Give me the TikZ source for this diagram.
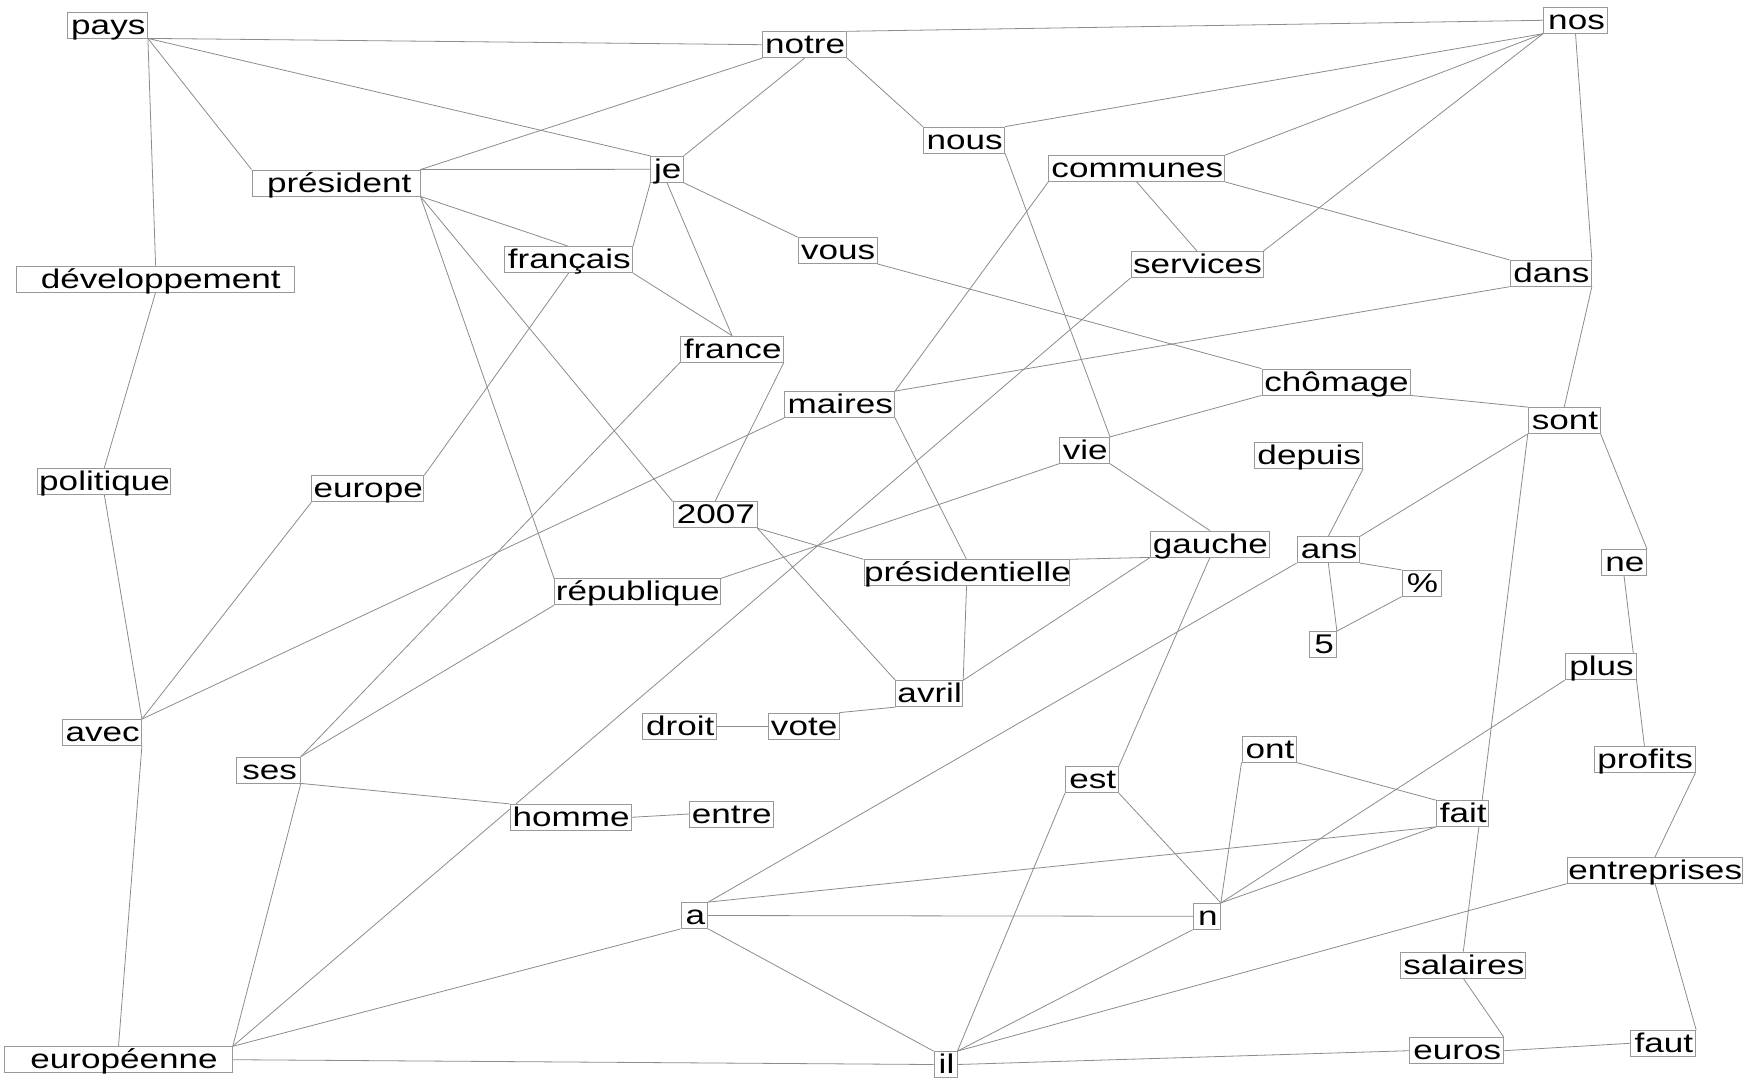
\documentclass[tikz,border=0pt]{standalone}
\usepackage{fontspec}
\newfontfamily\wordfont[FakeStretch=1.3]{Liberation Sans}
\usetikzlibrary{backgrounds}

\begin{document}
\begin{tikzpicture}[x=1pt,y=-1pt,
  wordbox/.style={draw=black!40,fill=white,line width=0.8pt,inner xsep=0pt,inner ysep=0pt,
    text height=22pt,text depth=4pt,font=\wordfont\fontsize{27}{27}\selectfont},
  link/.style={draw=black!45,line width=0.8pt}]
  \useasboundingbox (0,0) rectangle (1763,1079);
  % words
  \foreach \n/\x/\y/\w/\t in {
      pays/107.5/25/80/pays, notre/804.6/44.7/84/notre, nos/1575.5/20.3/64/nos,
      president/336/183/168/président, je/667/169.3/32.5/je, nous/964/140/81.5/nous,
      communes/1136.7/168.5/176/communes, francais/568.6/259.7/128/français,
      vous/837.5/250.5/79/vous, services/1197/264.5/132/services, dans/1550.7/273.3/81.5/dans,
      devel/155.6/279/278/développement, france/732/349/103/france, maires/839.6/404.5/110/maires,
      chomage/1336/382/148/chômage, sont/1564.2/420.5/72/sont, politique/104.3/481.3/133/politique,
      europe/367.8/488.8/112/europe, vie/1084.6/450.3/50/vie, depuis/1308.5/455.3/108.5/depuis,
      y2007/715/514.8/84/2007, gauche/1209.9/544/118.6/gauche, ans/1328.3/549.7/62.7/ans,
      republique/637.5/591.8/166/république, presid/966.5/572.7/205/présidentielle,
      pct/1421.5/583.3/39/\%, ne/1624/562.3/45/ne, five/1323/644.5/27/5, avril/929.3/693.7/67/avril,
      plus/1600.6/666.8/71/plus, droit/679.5/726/74/droit, vote/803.5/726/71/vote,
      avec/102/732.5/79/avec, ont/1269.2/749.2/54.6/ont, ses/268.3/770/64.3/ses,
      est/1091.9/779.7/53/est, profits/1644.4/759.5/101/profits, homme/570.5/817.3/121/homme,
      entre/731.2/814/84/entre, fait/1462.5/813.5/52.7/fait, entreprises/1655/870.3/175.4/entreprises,
      wa/694.4/915.5/26.8/a, wn/1206.8/916.3/27.3/n, salaires/1463.3/965/125/salaires,
      euros/1456.5/1050.7/94/euros, faut/1662.9/1043.3/65.7/faut,
      europeenne/118.5/1059.7/227.7/européenne, il/945.5/1064.5/23/il}{
      \node[wordbox] (\n) at (\x,\y)
        {\makebox[\w pt][l]{\hspace{0pt plus 7fil}\t\hspace{0pt plus 3fil}}};
  }
  % links, corner to corner
  \begin{scope}[on background layer]
  \fill[white] (0,0) rectangle (1763,1079);
  \foreach \a/\b in {
      pays.south east/notre.west, pays.south east/je.north west,
      pays.south east/president.north west, pays.south east/devel.north,
      notre.south west/president.north east, notre.south/je.north east,
      notre.south east/nous.north west, notre.north east/nos.west,
      president.north east/je.west, president.south east/francais.north,
      president.south east/y2007.north west, president.south east/republique.north west,
      je.south west/francais.north east, je.south/france.north, je.south east/vous.north west,
      francais.south east/france.north, francais.south/europe.north east,
      france.south east/y2007.north, france.south west/ses.north east,
      nous.north east/nos.south west, nous.south east/vie.north east,
      communes.north east/nos.south west, communes.south/services.north,
      communes.south east/dans.north west, communes.south west/maires.north east,
      services.north east/nos.south west, services.south west/europeenne.north east,
      vous.south east/chomage.north west,
      nos.south/dans.north east, dans.south east/sont.north, dans.south west/maires.north east,
      maires.south west/avec.north east, maires.south east/presid.north,
      chomage.south west/vie.north east, chomage.south east/sont.north west,
      vie.south west/republique.north east, vie.south east/gauche.north,
      y2007.south east/presid.north west, y2007.south east/avril.north west,
      presid.north east/gauche.south west, presid.south/avril.north east,
      gauche.south west/avril.north east, gauche.south/est.north east,
      sont.south west/ans.north east, sont.south west/salaires.north, sont.south east/ne.north east,
      depuis.south east/ans.north, ans.south east/pct.north west, ans.south/five.north east,
      ans.south west/wa.north east, pct.south west/five.north east,
      ne.south/profits.north, plus.south west/wn.north east,
      profits.south east/entreprises.north, entreprises.south/faut.north east,
      entreprises.south west/il.north east,
      wn.south west/il.north east, ont.south west/wn.north east, ont.south east/fait.north west,
      fait.south west/wn.north east, wa.north east/fait.south west, wa.east/wn.west,
      wa.south east/il.north west, wa.south west/europeenne.north east,
      est.south west/il.north east, est.south east/wn.north east,
      salaires.south/euros.north east, euros.east/faut.west, euros.west/il.east,
      il.west/europeenne.east,
      ses.north east/republique.south west, ses.south east/homme.north west,
      ses.south east/europeenne.north east, homme.east/entre.west, droit.east/vote.west,
      vote.north east/avril.south west,
      avec.south east/europeenne.north, politique.south/avec.north east,
      europe.south west/avec.north east, devel.south/politique.north}{
      \draw[link] (\a) -- (\b);
  }
  \end{scope}
\end{tikzpicture}
\end{document}
